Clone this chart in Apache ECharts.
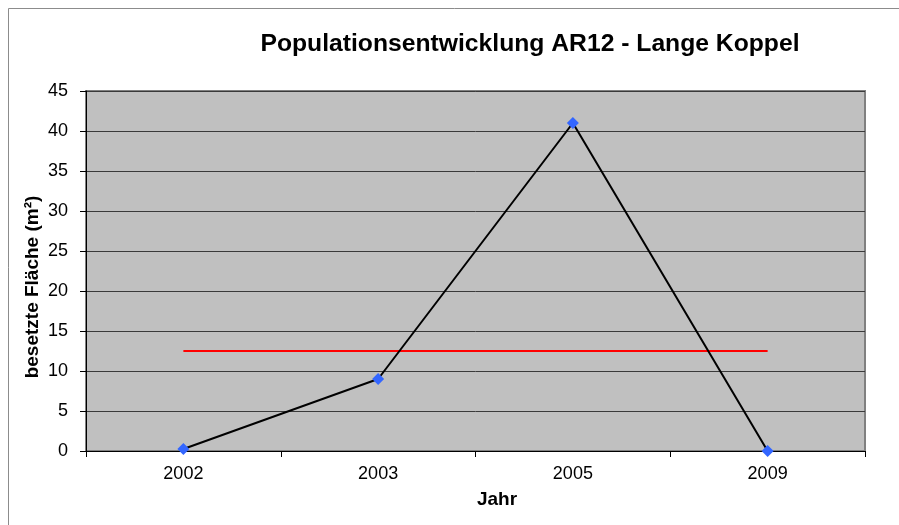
<!DOCTYPE html>
<html>
<head>
<meta charset="utf-8">
<script src="https://cdn.jsdelivr.net/npm/echarts@6/dist/echarts.min.js"></script>
<style>html,body{margin:0;padding:0;background:#fff}#c{width:899px;height:525px}</style>
</head>
<body>
<div id="c"></div>
<script>
const titleText = 'Populationsentwicklung AR12 - Lange Koppel';
const xName = 'Jahr';
const yName = 'besetzte Fläche (m²)';
const years = ['2002', '2003', '2005', '2009'];
const area = [0.25, 9, 41, 0];
const reference = [12.5, 12.5, 12.5, 12.5];
const yMin = 0, yMax = 45, yStep = 5;

const chart = echarts.init(document.getElementById('c'), null, {renderer: 'canvas'});
const font = 'Liberation Sans, Arial, Helvetica, sans-serif';
chart.setOption({
  animation: false,
  backgroundColor: '#fff',
  textStyle: {fontFamily: font},
  graphic: [
    {type: 'rect', x: 8.5, y: 8.5, shape: {width: 1000, height: 1000}, style: {fill: 'none', stroke: '#8c8c8c', lineWidth: 1}, z: -1},
    {type: 'text', x: 530, y: 44, style: {text: titleText, font: 'bold 24.7px ' + font, fill: '#000', align: 'center', verticalAlign: 'middle'}},
    {type: 'text', x: 497, y: 500, style: {text: xName, font: 'bold 19px ' + font, fill: '#000', align: 'center', verticalAlign: 'middle'}},
    {type: 'text', x: 33, y: 287, rotation: Math.PI / 2, style: {text: yName, font: 'bold 19px ' + font, fill: '#000', align: 'center', verticalAlign: 'middle'}}
  ],
  grid: {left: 86, top: 91, right: 34, bottom: 74, show: true, backgroundColor: '#c0c0c0', borderColor: '#808080', borderWidth: 2},
  xAxis: {
    type: 'category', data: years, boundaryGap: true,
    axisLine: {lineStyle: {color: '#000', width: 1}},
    axisTick: {show: true, length: 6, lineStyle: {color: '#000'}},
    axisLabel: {color: '#000', fontSize: 18, margin: 14, fontFamily: font}
  },
  yAxis: {
    type: 'value', min: yMin, max: yMax, interval: yStep,
    axisLine: {show: true, lineStyle: {color: '#000', width: 1}},
    axisTick: {show: true, length: 6, lineStyle: {color: '#000'}},
    axisLabel: {color: '#000', fontSize: 18, margin: 18, fontFamily: font},
    splitLine: {show: true, lineStyle: {color: '#3a3a3a', width: 1}}
  },
  series: [
    {type: 'line', data: reference, symbol: 'none', lineStyle: {color: '#ff0000', width: 2}, z: 2},
    {type: 'line', data: area, symbol: 'diamond', symbolSize: 12, itemStyle: {color: '#3366ff'}, lineStyle: {color: '#000', width: 2}, z: 3}
  ]
});
</script>
</body>
</html>
